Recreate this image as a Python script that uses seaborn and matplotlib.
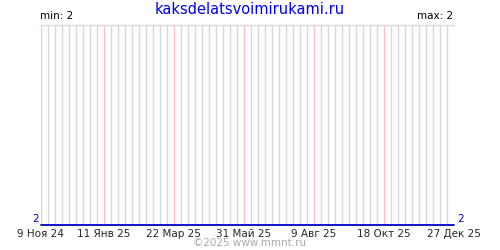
import matplotlib
matplotlib.use("Agg")
import matplotlib.pyplot as plt
import matplotlib.dates as mdates
import seaborn as sns
import pandas as pd

# data
dates = ["2024-11-09", "2025-12-27"]
values = [2, 2]
tick_dates = ["2024-11-09", "2025-01-11", "2025-03-22", "2025-05-31",
              "2025-08-09", "2025-10-18", "2025-12-27"]
tick_labels = ["9 Ноя 24", "11 Янв 25", "22 Мар 25", "31 Май 25",
               "9 Авг 25", "18 Окт 25", "27 Дек 25"]
title = "kaksdelatsvoimirukami.ru"
min_val = 2
max_val = 2
footer = "©2025 www.mmnt.ru"

df = pd.DataFrame({"date": pd.to_datetime(dates), "value": values})
tdates = pd.to_datetime(tick_dates)

sns.set_style("white")
plt.rcParams['font.family'] = ['DejaVu Sans']

fig = plt.figure(figsize=(5, 2.5), dpi=100)
ax = fig.add_axes([40.5 / 500, 25 / 250, 413 / 500, 200 / 250])

# weekly grid
ax.xaxis.set_minor_locator(mdates.WeekdayLocator(byweekday=mdates.SA))
ax.grid(which="minor", axis="x", color="#d8d8d8", linewidth=1)
for d in tdates:
    ax.axvline(d, color="#ffc0c0", linewidth=1, zorder=1)

sns.lineplot(data=df, x="date", y="value", ax=ax, color="#0000cc",
             linewidth=1.3, zorder=5, clip_on=False)

ax.set_xlim(df["date"].min(), df["date"].max())
ax.set_ylim(min_val, min_val + 1)
ax.set_xticks(tdates)
ax.set_xticklabels(tick_labels, fontsize=7.5)
ax.tick_params(axis="x", which="both", length=0, pad=3)
ax.set_yticks([])
ax.set_xlabel("")
ax.set_ylabel("")
for s in ["left", "right", "bottom"]:
    ax.spines[s].set_visible(False)
ax.spines["top"].set_color("#d8d8d8")
ax.spines["top"].set_linewidth(1)

ax.text(-0.005, 0.003, str(values[0]), transform=ax.transAxes, ha="right",
        va="bottom", color="#0000cc", fontsize=7.5)
ax.text(1.01, 0.003, str(values[-1]), transform=ax.transAxes, ha="left",
        va="bottom", color="#0000cc", fontsize=7.5)
ax.text(0.0, 1.02, f"min: {min_val}", transform=ax.transAxes, ha="left",
        va="bottom", color="black", fontsize=7.5)
ax.text(1.0, 1.02, f"max: {max_val}", transform=ax.transAxes, ha="right",
        va="bottom", color="black", fontsize=7.5)

fig.text(0.5, 0.962, title, ha="center", va="center", color="#0000ee",
         fontsize=10.5)
fig.text(0.5, 0.028, footer, ha="center", va="center", color="#aaaaaa",
         fontsize=7.5)

fig.savefig("out.png", dpi=100)
